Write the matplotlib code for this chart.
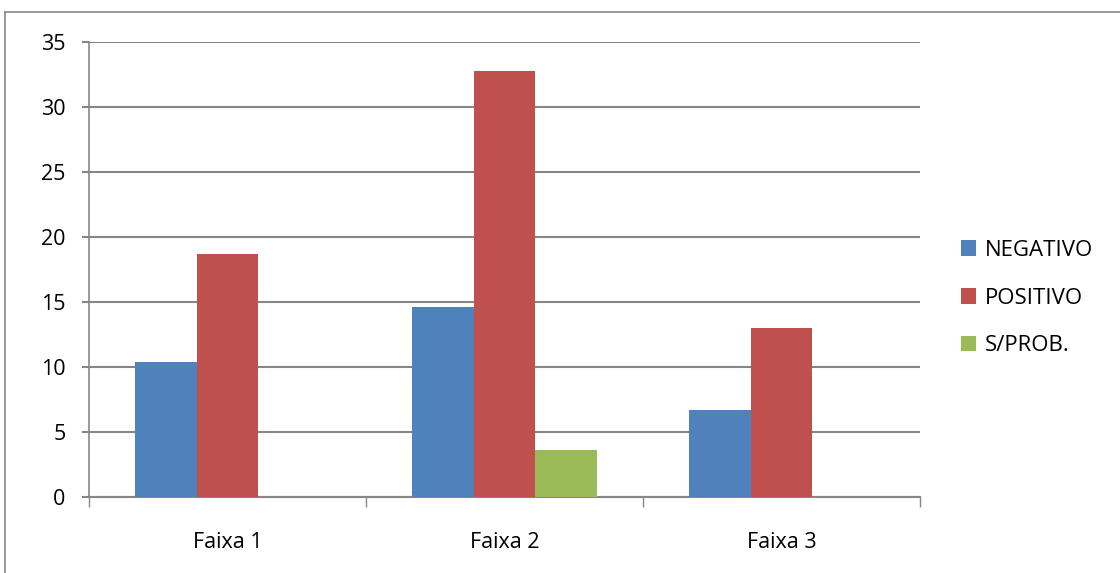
import numpy as np
import matplotlib
matplotlib.use("Agg")
import matplotlib.pyplot as plt
from matplotlib.lines import Line2D

# Data
categories = ["Faixa 1", "Faixa 2", "Faixa 3"]
series_names = ["NEGATIVO", "POSITIVO", "S/PROB."]
negativo = [10.4, 14.6, 6.7]
positivo = [18.7, 32.8, 13.0]
s_prob = [0, 3.6, 0]
colors = ["#4F81BD", "#C0504D", "#9BBB59"]

plt.rcParams["font.family"] = ["Open Sans", "DejaVu Sans"]

fig = plt.figure(figsize=(11.2, 5.73), dpi=100)
ax = fig.add_axes([89 / 1120, 1 - 497 / 573, (920 - 89) / 1120, (497 - 42) / 573])

x = np.arange(len(categories))
w = 1 / 4.5
for i, (vals, name, c) in enumerate(zip([negativo, positivo, s_prob], series_names, colors)):
    ax.bar(x + (i - 1) * w, vals, width=w, color=c, label=name, zorder=3)

ax.set_xlim(-0.5, 2.5)
ax.set_ylim(0, 35)
ax.set_yticks(range(0, 36, 5))
ax.yaxis.grid(True, color="#868686", linewidth=1.5, zorder=0)

# category labels between tick marks at group boundaries
ax.set_xticks([-0.5, 0.5, 1.5, 2.5])
ax.set_xticklabels([])
ax.set_xticks(x, minor=True)
ax.set_xticklabels(categories, minor=True)
ax.tick_params(axis="x", which="major", length=7, width=1, color="#868686", direction="out")
ax.tick_params(axis="x", which="minor", length=0, pad=25, labelsize=15.5, labelcolor="#000000")
ax.tick_params(axis="y", length=5, width=1.5, color="#868686", pad=12, labelsize=15.5)

for s in ["top", "right"]:
    ax.spines[s].set_visible(False)
ax.spines["left"].set_color("#868686")
ax.spines["bottom"].set_color("#868686")
ax.spines["left"].set_linewidth(1.2)
ax.spines["bottom"].set_linewidth(1.5)

leg = ax.legend(loc="center left", bbox_to_anchor=(1.025, 0.437), frameon=False,
                fontsize=16, handlelength=0.7, handleheight=0.7,
                handletextpad=0.4, labelspacing=1.2)

# outer chart border (top and left edges visible)
fig.add_artist(Line2D([5 / 1120, 1.0], [1 - 12 / 573, 1 - 12 / 573], color="#868686", lw=1.2))
fig.add_artist(Line2D([5 / 1120, 5 / 1120], [0.0, 1 - 12 / 573], color="#868686", lw=1.2))

fig.savefig("out.png", dpi=100)
